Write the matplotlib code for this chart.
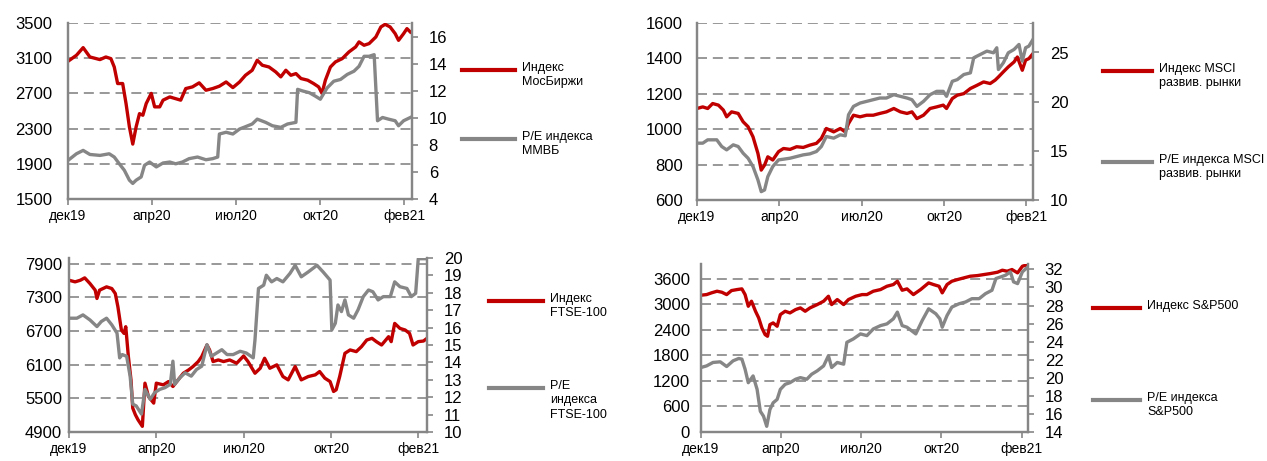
import numpy as np
import matplotlib
matplotlib.use("Agg")
import matplotlib.pyplot as plt
from matplotlib.lines import Line2D

plt.rcParams['font.family'] = ['Liberation Sans', 'DejaVu Sans']

W, H = 1267, 461
RED = '#C00000'
GREY = '#868686'

start = np.datetime64('2019-12-31')
months = ['янв', 'фев', 'мар', 'апр', 'май', 'июн', 'июл', 'авг', 'сен', 'окт', 'ноя', 'дек']
tick_days = [0, 100, 200, 300, 400]

# дни от 31.12.2019 и значения
moex_days = [0, 10, 18, 26, 38, 45, 51, 55, 59, 65, 69, 73, 77, 81, 85, 89, 93, 99, 103, 109,
             113, 121, 128, 134, 140, 148, 156, 164, 172, 180, 188, 196, 204, 211, 219, 225, 231, 239, 247, 253,
             259, 265, 271, 277, 285, 292, 298, 302, 306, 312, 318, 326, 334, 342, 346, 352, 358, 366, 372, 377,
             383, 389, 393, 399, 403, 407]
moex = [3065, 3133, 3220, 3114, 3084, 3114, 3095, 3000, 2812, 2812, 2585, 2320, 2124, 2320, 2470, 2452, 2585, 2700, 2547, 2547,
        2623, 2660, 2640, 2623, 2755, 2774, 2820, 2736, 2755, 2782, 2830, 2766, 2830, 2906, 2963, 3077, 3020, 3000, 2944, 2888,
        2963, 2906, 2925, 2869, 2850, 2812, 2774, 2700, 2850, 3000, 3058, 3095, 3171, 3228, 3285, 3247, 3266, 3341, 3455, 3485,
        3455, 3379, 3303, 3379, 3436, 3398]
pe_moex_days = [0, 10, 18, 26, 38, 49, 55, 61, 67, 73, 77, 81, 87, 91, 97, 105, 113, 121, 128, 136,
                144, 154, 164, 172, 178, 180, 188, 196, 204, 211, 219, 225, 235, 243, 253, 261, 271, 273, 279, 287,
                294, 300, 308, 316, 324, 332, 340, 346, 352, 358, 364, 368, 374, 381, 389, 393, 399, 407]
pe_moex = [6.85, 7.34, 7.59, 7.29, 7.22, 7.34, 7.1, 6.6, 6.12, 5.39, 5.15, 5.39, 5.63, 6.49, 6.73, 6.37, 6.66, 6.73, 6.6, 6.73,
           6.98, 7.1, 6.9, 6.98, 7.1, 8.8, 8.93, 8.8, 9.17, 9.34, 9.54, 9.9, 9.66, 9.41, 9.29, 9.54, 9.66, 12.1, 11.98, 11.85,
           11.6, 11.37, 12.2, 12.7, 12.83, 13.2, 13.44, 13.8, 14.54, 14.54, 14.66, 9.78, 10.02, 9.9, 9.78, 9.41, 9.78, 10.02]

msci_days = [0, 7, 13, 19, 26, 32, 36, 42, 50, 56, 62, 68, 74, 78, 82, 86, 92, 99, 105, 113,
             121, 129, 137, 145, 151, 157, 166, 174, 180, 184, 190, 198, 206, 214, 222, 230, 239, 247, 255, 261,
             267, 275, 283, 291, 299, 303, 310, 316, 324, 332, 340, 348, 356, 362, 366, 372, 378, 385, 389, 395,
             399, 403, 408]
msci = [1117, 1126, 1117, 1145, 1136, 1108, 1070, 1098, 1089, 1042, 1014, 957, 863, 769, 797, 844, 826, 873, 891, 886,
        901, 897, 910, 920, 948, 1004, 985, 1004, 985, 1032, 1079, 1070, 1079, 1079, 1089, 1098, 1117, 1098, 1089, 1098,
        1060, 1079, 1117, 1126, 1136, 1117, 1173, 1192, 1201, 1230, 1248, 1267, 1258, 1277, 1295, 1324, 1352, 1380, 1408, 1333,
        1390, 1399, 1427]
pe_msci_days = [0, 7, 13, 24, 30, 36, 44, 50, 56, 62, 68, 74, 78, 82, 86, 92, 99, 105, 113, 121,
                129, 137, 145, 151, 157, 166, 174, 180, 184, 190, 198, 206, 214, 222, 230, 239, 247, 255, 261, 267,
                275, 283, 291, 299, 303, 310, 316, 324, 332, 336, 344, 352, 360, 364, 366, 372, 378, 385, 391, 395,
                399, 403, 408]
pe_msci = [15.78, 15.78, 16.12, 16.12, 15.44, 15.1, 15.61, 15.44, 14.76, 14.25, 13.4, 12.04, 10.85, 11.02, 12.38, 13.4, 14.08, 14.15, 14.25, 14.42,
           14.59, 14.69, 14.93, 15.44, 16.46, 16.29, 16.63, 16.53, 18.67, 19.52, 19.86, 20.03, 20.2, 20.37, 20.37, 20.71, 20.54, 20.37, 20.2, 19.52,
           20.03, 20.71, 21.05, 21.05, 20.54, 22.07, 22.24, 22.76, 22.93, 24.46, 24.8, 25.14, 24.97, 25.48, 23.27, 23.95, 24.97, 25.31, 25.82, 24.12,
           25.48, 25.65, 26.33]

ftse_days = [0, 7, 13, 18, 24, 30, 32, 35, 43, 49, 53, 56, 60, 63, 65, 68, 71, 73, 76, 79,
             84, 87, 91, 97, 100, 108, 114, 119, 125, 131, 137, 142, 148, 152, 158, 161, 165, 171, 177, 184,
             192, 200, 205, 213, 219, 224, 230, 238, 245, 251, 259, 266, 274, 282, 287, 293, 299, 303, 306, 310,
             316, 322, 329, 335, 341, 347, 352, 358, 366, 369, 373, 379, 385, 390, 394, 400, 406, 410]
ftse = [7604, 7575, 7604, 7646, 7545, 7427, 7279, 7427, 7486, 7456, 7367, 7131, 6717, 6657, 6776, 6243, 5829, 5326, 5208, 5119,
        5001, 5770, 5533, 5415, 5770, 5740, 5799, 5711, 5829, 5947, 6006, 6066, 6155, 6243, 6450, 6362, 6155, 6184, 6155, 6184,
        6125, 6255, 6155, 5947, 6036, 6214, 6036, 6096, 5888, 5829, 6066, 5829, 5888, 5918, 5977, 5859, 5799, 5622, 5652, 5888,
        6302, 6362, 6332, 6421, 6539, 6569, 6510, 6450, 6598, 6510, 6835, 6746, 6717, 6657, 6450, 6510, 6521, 6569]
pe_ftse_days = [0, 9, 16, 24, 32, 37, 43, 49, 55, 58, 61, 66, 70, 73, 77, 83, 87, 93, 98, 104,
                110, 116, 119, 121, 127, 133, 140, 146, 152, 158, 163, 169, 175, 181, 188, 196, 203, 211, 213, 217,
                223, 226, 232, 238, 245, 253, 259, 266, 274, 284, 291, 299, 301, 305, 308, 312, 316, 320, 326, 331,
                337, 343, 348, 354, 360, 368, 373, 379, 387, 392, 397, 400, 410]
pe_ftse = [16.54, 16.54, 16.73, 16.44, 16.06, 16.35, 16.54, 16.16, 15.68, 14.26, 14.45, 14.35, 13.21, 11.6, 11.5, 11.03, 12.45, 11.88, 12.26, 12.45,
           12.55, 12.74, 14.07, 12.74, 13.12, 13.4, 13.21, 13.59, 13.78, 15.02, 14.35, 14.54, 14.73, 14.45, 14.45, 14.64, 14.54, 14.26, 15.3, 18.25,
           18.44, 19.01, 18.63, 18.82, 18.63, 19.11, 19.58, 18.92, 19.2, 19.58, 19.2, 18.73, 15.87, 16.25, 17.3, 16.92, 17.59, 16.73, 16.54, 17.02,
           17.78, 18.16, 18.06, 17.59, 17.78, 17.78, 18.63, 18.35, 18.25, 17.78, 17.97, 19.96, 19.96]

spx_days = [0, 7, 13, 20, 26, 32, 38, 45, 51, 55, 59, 63, 68, 72, 76, 80, 83, 86, 90, 95,
            99, 105, 111, 118, 124, 130, 136, 145, 153, 159, 163, 170, 178, 184, 193, 201, 207, 215, 224, 232,
            240, 245, 251, 257, 265, 274, 284, 290, 297, 301, 307, 313, 320, 328, 336, 345, 353, 361, 370, 376,
            382, 388, 395, 401, 408]
spx = [3216, 3231, 3271, 3310, 3286, 3231, 3325, 3349, 3365, 3231, 2957, 3075, 2839, 2682, 2447, 2290, 2251, 2525, 2565, 2486,
       2761, 2839, 2800, 2878, 2918, 2839, 2918, 2996, 3075, 3192, 2996, 3114, 2996, 3114, 3192, 3231, 3231, 3310, 3349, 3427,
       3467, 3545, 3333, 3365, 3231, 3349, 3506, 3467, 3427, 3271, 3467, 3545, 3584, 3624, 3663, 3678, 3702, 3725, 3757, 3804,
       3780, 3820, 3741, 3898, 3937]
pe_spx_days = [0, 7, 15, 24, 32, 40, 47, 51, 55, 59, 65, 70, 74, 78, 82, 86, 90, 95, 99, 105,
               111, 118, 124, 132, 138, 145, 153, 159, 163, 170, 178, 182, 190, 199, 207, 215, 224, 232, 240, 245,
               251, 257, 268, 276, 284, 293, 298, 301, 307, 313, 322, 330, 338, 347, 355, 363, 368, 374, 380, 386,
               390, 395, 401, 408]
pe_spx = [21.14, 21.32, 21.7, 21.77, 21.25, 21.88, 22.14, 22.07, 20.95, 19.46, 20.21, 18.72, 16.3, 15.75, 14.63, 16.49, 17.23, 17.61, 18.72, 19.28,
          19.46, 19.84, 20.02, 19.84, 20.39, 20.77, 21.32, 22.44, 21.14, 21.7, 21.51, 23.93, 24.3, 24.86, 24.67, 25.41, 25.78, 25.97, 26.53, 27.27,
          25.78, 25.6, 24.86, 26.34, 27.64, 27.09, 26.53, 25.6, 26.9, 27.83, 28.2, 28.39, 28.76, 28.76, 29.32, 29.69, 30.99, 31.17, 31.36, 31.73,
          30.62, 30.43, 31.73, 32.29]

fig = plt.figure(figsize=(W / 100, H / 100), dpi=100)


def panel(box, d1, v1, d2, v2, lim1, ticks1, lim2, ticks2, lpad, xend):
    l, t, r, b = box
    ax = fig.add_axes([l / W, 1 - b / H, (r - l) / W, (b - t) / H])
    ax2 = ax.twinx()
    ax.plot(start + np.array(d1), v1, color=RED, lw=2.4, solid_joinstyle='round')
    ax2.plot(start + np.array(d2), v2, color=GREY, lw=2.4, solid_joinstyle='round')

    ax.set_ylim(*lim1)
    ax.set_yticks(ticks1)
    ax2.set_ylim(*lim2)
    ax2.set_yticks(ticks2)
    ax.set_xlim(start, start + np.timedelta64(xend, 'D'))
    xt = start + np.array(tick_days)
    ax.set_xticks(xt)
    ax.set_xticklabels([months[d.month - 1] + d.strftime('%y') for d in xt.astype(object)])

    ax.yaxis.grid(True, color=GREY, lw=1.2, linestyle=(0, (6, 3.5)))
    ax.set_axisbelow(True)
    for a in (ax, ax2):
        a.spines['top'].set_visible(False)
        for s in ('left', 'right', 'bottom'):
            a.spines[s].set_color(GREY)
            a.spines[s].set_linewidth(1.6)
    ax.tick_params(axis='y', length=0, pad=lpad, labelsize=12)
    ax.tick_params(axis='x', length=4, width=1.2, color=GREY, pad=3, labelsize=10)
    ax2.tick_params(axis='y', length=4, width=1.2, color=GREY, pad=8, labelsize=12)
    return ax


def key(x0, x1, y, color, text):
    fig.add_artist(Line2D([x0 / W, x1 / W], [1 - y / H, 1 - y / H], color=color, lw=3,
                          transform=fig.transFigure))
    fig.text((x1 + 7) / W, 1 - (y - 8) / H, text, ha='left', va='top', fontsize=9, linespacing=1.25)


panel((68, 23, 412, 199), moex_days, moex, pe_moex_days, pe_moex,
      (1500, 3500), np.arange(1500, 3501, 400), (4, 17), np.arange(4, 17, 2), 11, 409)
panel((697, 23, 1033, 200), msci_days, msci, pe_msci_days, pe_msci,
      (600, 1600), np.arange(600, 1601, 200), (10, 28), [10, 15, 20, 25], 10, 408)
panel((69, 258, 427, 432), ftse_days, ftse, pe_ftse_days, pe_ftse,
      (4900, 8000), np.arange(4900, 7901, 600), (10, 20), np.arange(10, 21, 1), 5, 410)
panel((701, 264, 1028, 432), spx_days, spx, pe_spx_days, pe_spx,
      (0, 3950), np.arange(0, 3601, 600), (14, 32.6), np.arange(14, 33, 2), 8, 408)

key(462, 515, 70, RED, 'Индекс\nМосБиржи')
key(462, 515, 139, GREY, 'P/E индекса\nММВБ')
key(1103, 1152, 71, RED, 'Индекс MSCI\nразвив. рынки')
key(1103, 1152, 162, GREY, 'P/E индекса MSCI\nразвив. рынки')
key(489, 543, 301, RED, 'Индекс\nFTSE-100')
key(489, 543, 388, GREY, 'P/E\nиндекса\nFTSE-100')
key(1093, 1140, 308, RED, 'Индекс S&P500')
key(1093, 1140, 400, GREY, 'P/E индекса\nS&P500')

fig.savefig('out.png', dpi=100)
